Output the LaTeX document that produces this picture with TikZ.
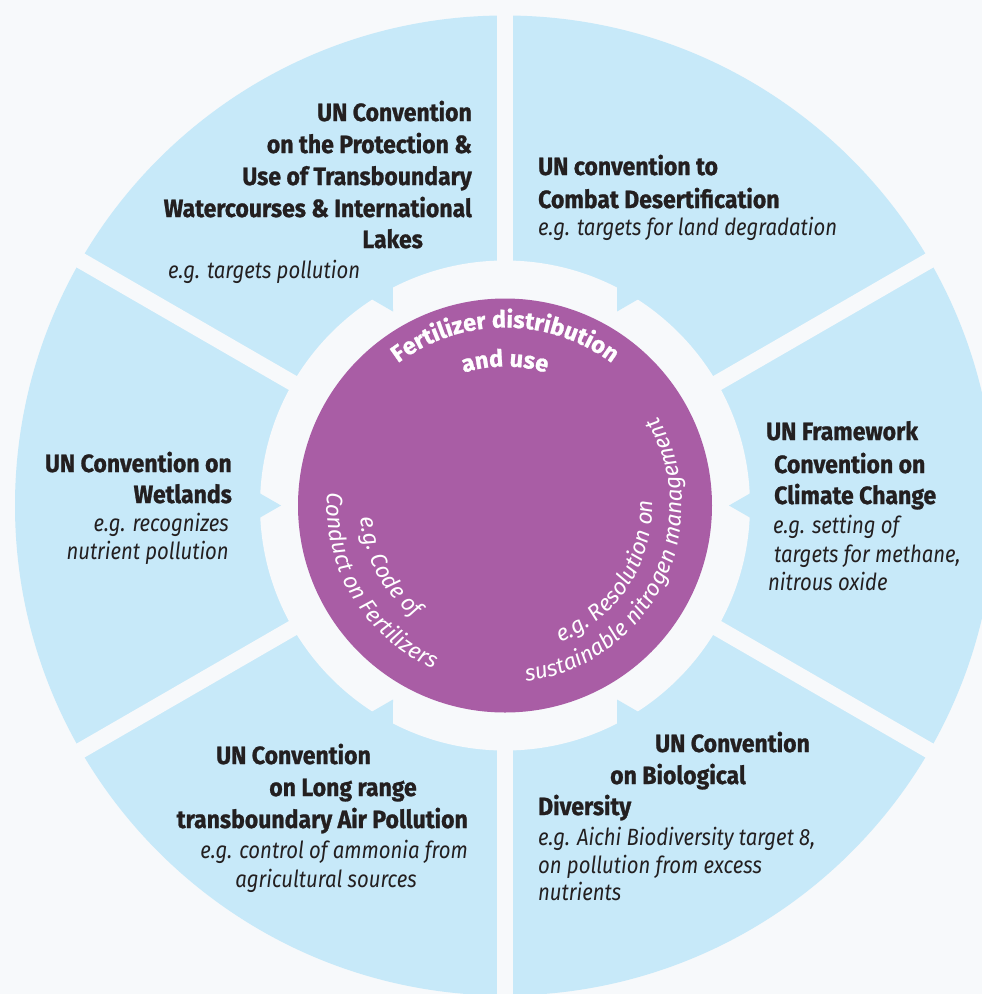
\documentclass[tikz,border=0pt]{standalone}
\usepackage{fontspec}
\setmainfont{Fira Sans}
\newfontfamily\hdfont{Fira Sans}[FakeStretch=0.92,BoldFeatures={FakeBold=1}]
\newfontfamily\egfont{Fira Sans}[FakeStretch=0.865]
\newfontfamily\infont{Fira Sans}[BoldFeatures={FakeBold=1}]
\usetikzlibrary{decorations.text,calc}
\definecolor{bgc}{HTML}{F7F9FB}
\definecolor{segc}{HTML}{C7E9F9}
\definecolor{purp}{HTML}{A95DA5}
\definecolor{ink}{HTML}{231F20}
\begin{document}
\begin{tikzpicture}[x=1pt,y=1pt,
  hd/.style={font=\hdfont\fontsize{25}{30}\selectfont\bfseries, text=ink, inner sep=0pt},
  eg/.style={font=\egfont\fontsize{23.5}{28}\selectfont\itshape, text=ink, inner sep=0pt},
  gapline/.style={line width=16pt, draw=bgc},
  notch/.style={fill=segc},
]
\useasboundingbox (0,0) rectangle (982,-994);
\fill[bgc] (0,0) rectangle (982,-994);
\coordinate (C) at (505,-505.5);
\begin{scope}
  \clip (0,0) rectangle (982,-994);
  \fill[segc] (C) circle[radius=490];
  \foreach \a in {90,30,-30,-90,150,210} \draw[gapline] (C) -- ++(\a:560);
\end{scope}
\fill[bgc] (C) circle[radius=245];
\foreach \a in {0,60,...,300}
  \fill[notch] ($(C)+(\a:224)$) -- ($(C)+(\a+3.6:252)$) -- ($(C)+(\a-3.6:252)$) -- cycle;
\fill[purp] (C) circle[radius=207];

% curved texts in the centre
\path[decorate,decoration={text along path,text align=center,
  text={|\infont\fontsize{23.5}{24}\selectfont\bfseries\color{white}|Fertilizer distribution}}]
  ($(C)+(170:178)$) arc[start angle=170,end angle=10,radius=178];
\path[decorate,decoration={text along path,text align=center,
  text={|\infont\fontsize{23.5}{24}\selectfont\bfseries\color{white}|and use}}]
  ($(C)+(150:139)$) arc[start angle=150,end angle=30,radius=139];
\path[decorate,decoration={text along path,text align=center,
  text={|\infont\fontsize{22.5}{23}\selectfont\itshape\color{white}|e.g. Code of}}]
  ($(C)+(158:145)$) arc[start angle=158,end angle=258,radius=145];
\path[decorate,decoration={text along path,text align=center,
  text={|\infont\fontsize{22.5}{23}\selectfont\itshape\color{white}|Conduct on Fertilizers}}]
  ($(C)+(151:178)$) arc[start angle=151,end angle=271,radius=178];
\path[decorate,decoration={text along path,text align=center,
  text={|\infont\fontsize{22.5}{23}\selectfont\itshape\color{white}|e.g. Resolution on}}]
  ($(C)+(-93:148)$) arc[start angle=-93,end angle=27,radius=148];
\path[decorate,decoration={text along path,text align=center,
  text={|\infont\fontsize{22.5}{23}\selectfont\itshape\color{white}|sustainable nitrogen management}}]
  ($(C)+(-96.5:177)$) arc[start angle=-96.5,end angle=43.5,radius=177];

% top-left
\node[hd,anchor=base east] (tl1) at (472,-121) {UN Convention};
\node[hd,anchor=base east] (tl2) at (472,-153) {on the Protection \&};
\node[hd,anchor=base east] (tl3) at (472,-185) {Use of Transboundary};
\node[hd,anchor=base east] (tl4) at (472,-217) {Watercourses \& International};
\node[hd,anchor=base east] (tl5) at (423,-248) {Lakes};
\node[eg,anchor=base west] (tl6) at (168,-278) {e.g. targets pollution};
% top-right
\node[hd,anchor=base west] (tr1) at (538,-175) {UN convention to};
\node[hd,anchor=base west] (tr2) at (538,-208) {Combat Desertification};
\node[eg,anchor=base west] (tr3) at (538,-235) {e.g. targets for land degradation};
% left
\node[hd,anchor=base east] (l1) at (232,-472) {UN Convention on};
\node[hd,anchor=base east] (l2) at (232,-503) {Wetlands};
\node[eg,anchor=base east] (l3) at (229,-531) {e.g. recognizes};
\node[eg,anchor=base east] (l4) at (229,-559) {nutrient pollution};
% right
\node[hd,anchor=base west] (r1) at (766,-440) {UN Framework};
\node[hd,anchor=base west] (r2) at (774,-473) {Convention on};
\node[hd,anchor=base west] (r3) at (774,-504) {Climate Change};
\node[eg,anchor=base west] (r4) at (773,-533) {e.g. setting of};
\node[eg,anchor=base west] (r5) at (774,-562) {targets for methane,};
\node[eg,anchor=base west] (r6) at (768,-590) {nitrous oxide};
% bottom-left
\node[hd,anchor=base] (bl1) at (293.5,-764) {UN Convention};
\node[hd,anchor=base] (bl2) at (343,-796) {on Long range};
\node[hd,anchor=base east] (bl3) at (468,-828) {transboundary Air Pollution};
\node[eg,anchor=base east] (bl4) at (468,-858) {e.g. control of ammonia from};
\node[eg,anchor=base] (bl5) at (326,-887) {agricultural sources};
% bottom-right
\node[hd,anchor=base west] (br1) at (655,-752) {UN Convention};
\node[hd,anchor=base west] (br2) at (610,-784) {on Biological};
\node[hd,anchor=base west] (br3) at (538,-815) {Diversity};
\node[eg,anchor=base west] (br4) at (538,-845) {e.g. Aichi Biodiversity target 8,};
\node[eg,anchor=base west] (br5) at (538,-873) {on pollution from excess};
\node[eg,anchor=base west] (br6) at (538,-900) {nutrients};
\end{tikzpicture}
\end{document}
